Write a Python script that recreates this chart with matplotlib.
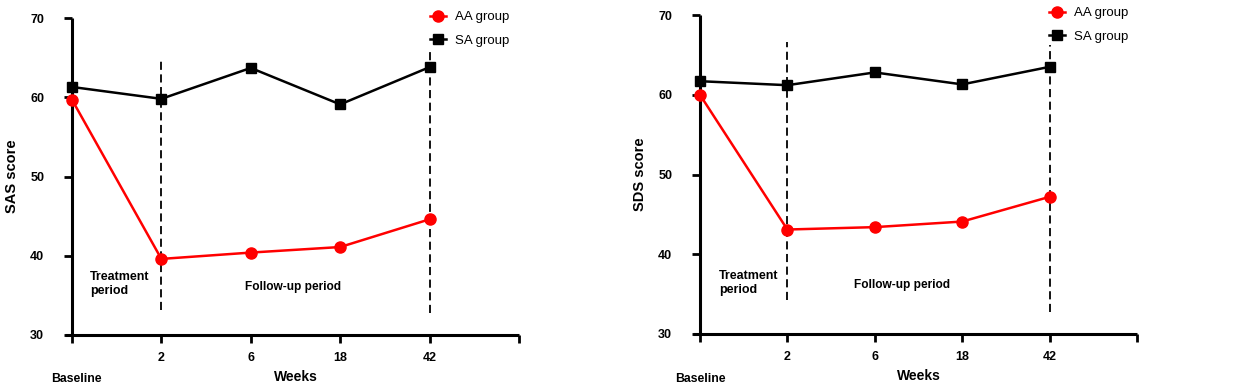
import matplotlib
matplotlib.use("Agg")
import matplotlib.pyplot as plt
from matplotlib.transforms import blended_transform_factory

plt.rcParams['font.family'] = ['Liberation Sans', 'DejaVu Sans']

week_labels = ["", "2", "6", "18", "42", ""]
positions = [0, 1, 2, 3, 4, 5]
point_pos = [0, 1, 2, 3, 4]

sas_aa = [59.7, 39.6, 40.4, 41.1, 44.6]
sas_sa = [61.3, 59.8, 63.7, 59.1, 63.8]
sds_aa = [60.0, 43.1, 43.4, 44.1, 47.2]
sds_sa = [61.7, 61.2, 62.8, 61.3, 63.5]

W, H = 1247, 385

panels = [
    dict(rect=[0.0577, 0.1299, 0.3585, 0.8233], aa=sas_aa, sa=sas_sa, ylabel="SAS score",
         dash2=(33.2, 64.8), dash42=(32.8, 66.0), treat_x=0.2, follow_x=2.47,
         base_x=0.05, leg_px=(430, 11)),
    dict(rect=[0.5613, 0.1325, 0.3505, 0.8285], aa=sds_aa, sa=sds_sa, ylabel="SDS score",
         dash2=(34.3, 66.6), dash42=(32.8, 66.2), treat_x=0.22, follow_x=2.31,
         base_x=0.0, leg_px=(1049, 7)),
]

fig = plt.figure(figsize=(12.47, 3.85), dpi=100)
for p in panels:
    ax = fig.add_axes(p['rect'])
    ax.set_xlim(0, 5)
    ax.set_ylim(30, 70)
    ax.spines['top'].set_visible(False)
    ax.spines['right'].set_visible(False)
    for s in ['left', 'bottom']:
        ax.spines[s].set_linewidth(2.2)
        ax.spines[s].set_capstyle('butt')
    ax.spines['bottom'].set_bounds(-0.08, 5)
    ax.set_xticks(positions)
    ax.set_xticklabels(week_labels, fontweight='bold', fontsize=9)
    ax.set_yticks([30, 40, 50, 60, 70])
    ax.set_yticklabels(["30", "40", "50", "60", "70"], fontweight='bold', fontsize=9)
    ax.tick_params(axis='both', width=2.0, length=6, direction='out')
    ax.tick_params(axis='x', pad=6)
    ax.tick_params(axis='y', pad=14)
    ax.set_ylabel(p['ylabel'], fontweight='bold', fontsize=10.5, labelpad=8)
    ax.set_xlabel("Weeks", fontweight='bold', fontsize=10)
    ax.xaxis.set_label_coords(0.5, -0.11)

    ax.vlines(1, *p['dash2'], colors='black', linestyles=(0, (4.5, 2.5)), linewidth=1.3, zorder=1)
    ax.vlines(4, *p['dash42'], colors='black', linestyles=(0, (4.5, 2.5)), linewidth=1.3, zorder=1)

    ax.plot(point_pos, p['sa'], color='black', marker='s', markersize=7.5, linewidth=1.8,
            label='SA group', clip_on=False, zorder=3)
    ax.plot(point_pos, p['aa'], color='#ff0000', marker='o', markersize=8, linewidth=1.8,
            label='AA group', clip_on=False, zorder=4)

    ax.text(p['treat_x'], 36.4, "Treatment\nperiod", fontweight='bold', fontsize=9,
            ha='left', va='center', linespacing=1.25)
    ax.text(p['follow_x'], 36.1, "Follow-up period", fontweight='bold', fontsize=8.6,
            ha='center', va='center')
    tr = blended_transform_factory(ax.transData, ax.transAxes)
    ax.text(p['base_x'], -0.14, "Baseline", transform=tr, fontweight='bold', fontsize=8.8,
            ha='center', va='center')

    handles, labels = ax.get_legend_handles_labels()
    lx, ly = p['leg_px']
    ax.legend(handles[::-1], labels[::-1], loc='upper left',
              bbox_to_anchor=(lx / W, 1 - ly / H), bbox_transform=fig.transFigure,
              frameon=False, fontsize=9.5, handlelength=1.2, handletextpad=0.7,
              labelspacing=0.85, borderpad=0, borderaxespad=0)

fig.savefig("out.png", dpi=100)
